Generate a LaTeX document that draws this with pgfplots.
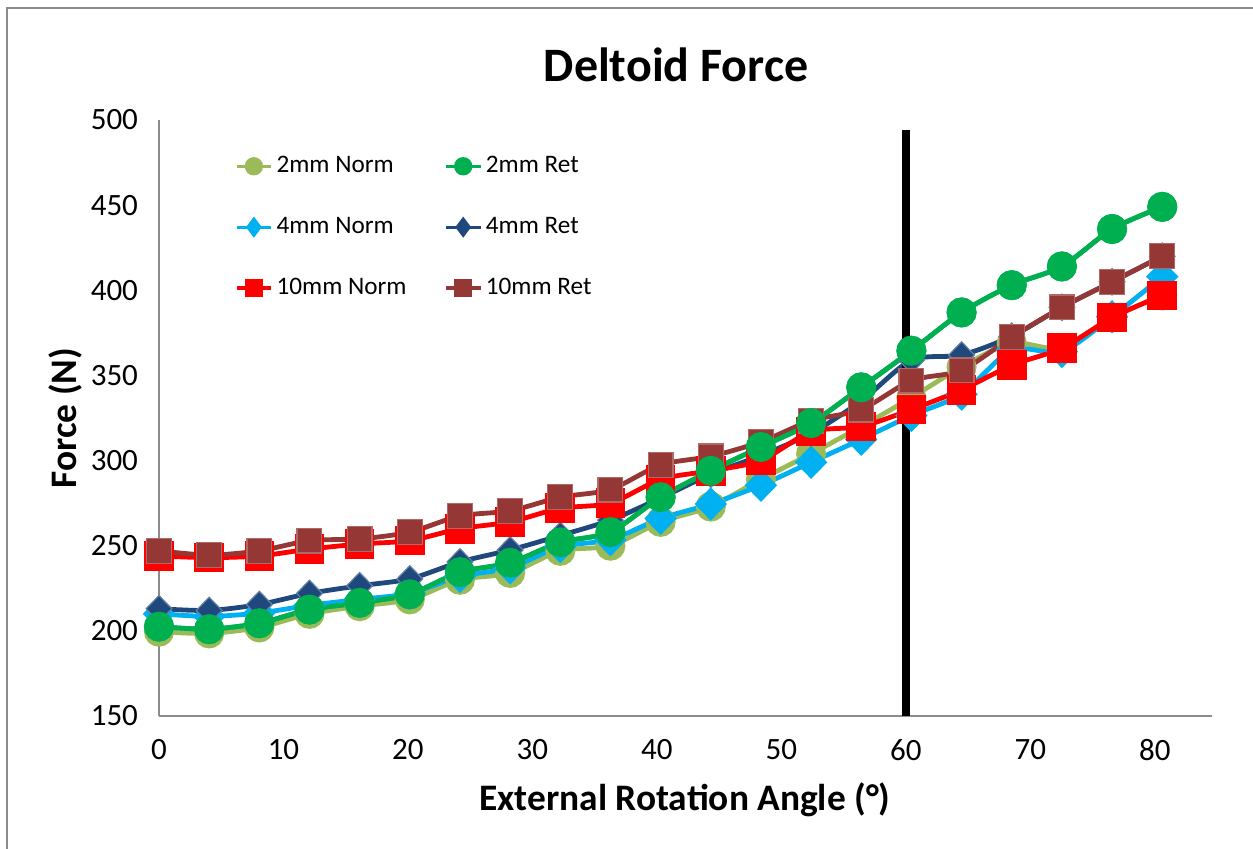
\documentclass[border=0pt]{standalone}
\usepackage{fontspec}
\setmainfont{Carlito}
\usepackage{pgfplots}
\usepackage{pgfplotstable}
\pgfplotsset{compat=1.18}

\definecolor{oliveN}{HTML}{9BBB59}
\definecolor{greenR}{HTML}{00B050}
\definecolor{lblueN}{HTML}{00B0F0}
\definecolor{dblueR}{HTML}{1F497D}
\definecolor{redN}{HTML}{FF0000}
\definecolor{brownR}{HTML}{953735}
\definecolor{frame}{HTML}{8C8C8C}

% angle, force (N)
\pgfplotstableread{
x      n2     r2     n4     r4     n10    r10
0      199.5  202.5  210    213    244    247
4.03   198.5  201    208.5  212    243    244.5
8.06   202    204.5  210.5  215.5  244    247
12.09  210    212.5  215    222    248    253
16.12  214.5  216.5  218.5  226.5  251    254
20.15  218.5  221.5  222    230.5  253    258
24.18  230    234.5  232    240.5  260    267.5
28.21  234    240    237    247.5  264    270.5
32.24  247    252    249.5  256    272    278.5
36.27  250    258    253.5  265    275    283
40.30  264    278.5  266    278    289    297.5
44.33  273    294    274.5  292    294    302.5
48.36  289    308    285.5  303    300    311
52.39  304    322    299    316    317    323.5
56.42  320    343    312.5  335    320    330
60.45  337    364.5  326.5  359    330    347
64.48  355    387    339    362    341.5  353
68.51  369    403    365    373    356    372.5
72.54  366    414    364    390    366    390
76.57  384    436    384.5  405    384    405
80.60  397    449    408    420    397    420
}\deltoid

\begin{document}
\begin{tikzpicture}
\draw[frame, line width=1.2pt] (3.5pt,-4pt) rectangle (700pt,-500pt);
\begin{axis}[
    at={(79.5pt,-358pt)}, anchor=south west,
    scale only axis,
    width=526.5pt, height=298pt,
    xmin=0, xmax=84.6,
    ymin=150, ymax=500,
    axis x line=bottom, axis y line=left,
    axis line style={-, draw=frame, line width=0.9pt},
    xtick={0,10,...,80}, ytick={150,200,...,500},
    major tick length=0pt,
    tick label style={font=\fontsize{15.5}{18}\selectfont},
    /pgf/number format/assume math mode=true,
    xticklabel style={yshift=-8pt},
    yticklabel style={xshift=-7pt},
    title={\textbf{Deltoid Force}},
    title style={font=\fontsize{24}{28}\selectfont, at={(axis description cs:0.491,1.072)}, anchor=center},
    xlabel={\textbf{External Rotation Angle (°)}},
    xlabel style={font=\fontsize{18.7}{22}\selectfont, at={(axis description cs:0.4995,-0.141)}, anchor=center},
    ylabel={\textbf{Force (N)}},
    ylabel style={font=\fontsize{18.7}{22}\selectfont, at={(axis description cs:-0.0893,0.5)}, anchor=center},
    every axis plot/.append style={line width=2.4pt, smooth, tension=0.45},
    legend columns=2,
    legend cell align=left,
    legend style={draw=none, fill=none, inner sep=0pt,
        at={(axis description cs:0.072,0.946)}, anchor=north west,
        font=\fontsize{12.6}{15}\selectfont,
        row sep=16.8pt,
        /tikz/every even column/.append style={column sep=17pt}},
    legend image post style={mark options={scale=0.6}, line width=1.6pt},
]
\addplot[oliveN, mark=*, mark size=6.3pt] table[x=x, y=n2] {\deltoid};
\addlegendentry{2mm Norm}
\addplot[greenR, mark=*, mark size=6.3pt] table[x=x, y=r2] {\deltoid};
\addlegendentry{2mm Ret}
\addplot[lblueN, mark=diamond*, mark size=6.6pt, mark options={xscale=1.3}] table[x=x, y=n4] {\deltoid};
\addlegendentry{4mm Norm}
\addplot[dblueR, mark=diamond*, mark size=6.6pt, mark options={xscale=1.3, draw=dblueR!70!white, line width=0.6pt}] table[x=x, y=r4] {\deltoid};
\addlegendentry{4mm Ret}
\addplot[redN, mark=square*, mark size=6.2pt] table[x=x, y=n10] {\deltoid};
\addlegendentry{10mm Norm}
\addplot[brownR, mark=square*, mark size=6.2pt, mark options={draw=brownR!75!white, line width=0.6pt}] table[x=x, y=r10] {\deltoid};
\addlegendentry{10mm Ret}
% green series sits on top in the original
\addplot[greenR, mark=*, mark size=6.3pt, forget plot] table[x=x, y=r2] {\deltoid};
% 60 degree marker line
\addplot[black, line width=4pt, no marks, sharp plot, forget plot] coordinates {(60,150) (60,494)};
\end{axis}
\pgfresetboundingbox
\path[use as bounding box] (0,0) rectangle (626.5pt,-424pt);
\end{tikzpicture}
\end{document}
